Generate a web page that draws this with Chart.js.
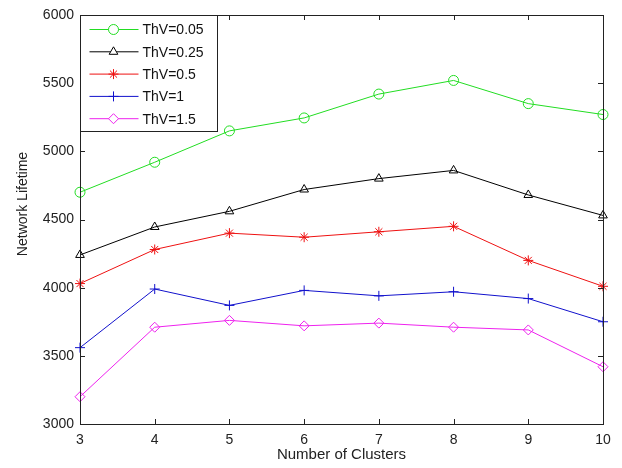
<!DOCTYPE html>
<html>
<head>
<meta charset="utf-8">
<script src="https://cdn.jsdelivr.net/npm/chart.js@4/dist/chart.umd.min.js"></script>
<style>
  body { margin: 0; background: #fff; }
  #wrap { width: 622px; height: 468px; }
</style>
</head>
<body>
<div id="wrap"><canvas id="grafico" width="622" height="468"></canvas></div>
<script>
const clusters = ["3", "4", "5", "6", "7", "8", "9", "10"];
const thv005 = [4700, 4920, 5150, 5245, 5420, 5520, 5350, 5270];
const thv025 = [4240, 4445, 4560, 4720, 4800, 4860, 4680, 4530];
const thv05 = [4030, 4280, 4400, 4370, 4410, 4450, 4200, 4010];
const thv1 = [3560, 3990, 3870, 3980, 3940, 3970, 3920, 3750];
const thv15 = [3200, 3710, 3760, 3720, 3740, 3710, 3690, 3420];
const yTicks = [3000, 3500, 4000, 4500, 5000, 5500, 6000];

const fuente = "Liberation Sans, Arial, sans-serif";

function serie(label, data, color, estilo) {
  return {
    label: label,
    data: data,
    borderColor: color,
    backgroundColor: "rgba(0,0,0,0)",
    borderWidth: 1,
    pointStyle: estilo,
    pointRadius: 5,
    pointBorderColor: color,
    pointBorderWidth: 1,
    pointBackgroundColor: "rgba(0,0,0,0)",
    tension: 0
  };
}

// marco estilo matlab con marcas hacia dentro + leyenda dentro del eje
const marco = {
  id: "marco",
  afterDraw(chart) {
    const c = chart.ctx;
    const a = chart.chartArea;
    const sx = chart.scales.x;
    const sy = chart.scales.y;
    c.save();
    c.strokeStyle = "#222";
    c.lineWidth = 1;
    c.beginPath();
    clusters.forEach((v, i) => {
      const px = Math.round(sx.getPixelForValue(i)) + 0.5;
      c.moveTo(px, a.bottom); c.lineTo(px, a.bottom - 5);
      c.moveTo(px, a.top); c.lineTo(px, a.top + 5);
    });
    yTicks.forEach(v => {
      const py = Math.round(sy.getPixelForValue(v)) + 0.5;
      c.moveTo(a.left, py); c.lineTo(a.left + 5, py);
      c.moveTo(a.right, py); c.lineTo(a.right - 5, py);
    });
    c.stroke();
    c.strokeRect(Math.round(a.left) + 0.5, Math.round(a.top) + 0.5,
      Math.round(a.right - a.left), Math.round(a.bottom - a.top));

    // titulo del eje y (un poco por encima del centro, como en el original)
    c.save();
    c.translate(23, 204);
    c.rotate(-Math.PI / 2);
    c.font = "14px " + fuente;
    c.fillStyle = "#222";
    c.textAlign = "center";
    c.textBaseline = "middle";
    c.fillText("Network Lifetime", 0, 0);
    c.restore();

    // leyenda
    const lx = Math.round(a.left) + 0.5, ly = Math.round(a.top) + 0.5;
    const lw = 137, lh = 116;
    c.fillStyle = "#fff";
    c.fillRect(lx, ly, lw, lh);
    c.strokeRect(lx, ly, lw, lh);
    c.font = "14px " + fuente;
    c.textBaseline = "middle";
    chart.data.datasets.forEach((ds, i) => {
      const yy = ly + 14 + i * 22.3;
      c.strokeStyle = ds.borderColor;
      c.beginPath();
      c.moveTo(lx + 9, yy); c.lineTo(lx + 58, yy);
      c.stroke();
      c.fillStyle = "#fff";
      Chart.helpers.drawPoint(c, {
        pointStyle: ds.pointStyle, radius: 5, borderWidth: 1, rotation: 0
      }, lx + 33, yy);
      c.fillStyle = "#111";
      c.fillText(ds.label, lx + 62, yy + 1);
    });
    c.restore();
  }
};

new Chart(document.getElementById("grafico"), {
  type: "line",
  data: {
    labels: clusters,
    datasets: [
      serie("ThV=0.05", thv005, "#22dd22", "circle"),
      serie("ThV=0.25", thv025, "#000000", "triangle"),
      serie("ThV=0.5", thv05, "#ee1111", "star"),
      serie("ThV=1", thv1, "#1111cc", "cross"),
      serie("ThV=1.5", thv15, "#ee22ee", "rectRot")
    ]
  },
  options: {
    responsive: false,
    animation: false,
    layout: { padding: { top: 15, right: 19, left: 0, bottom: 0 } },
    plugins: {
      legend: { display: false },
      tooltip: { enabled: false }
    },
    scales: {
      x: {
        offset: false,
        grid: { display: false, drawTicks: false },
        border: { display: false },
        ticks: { color: "#222", font: { family: fuente, size: 14 }, padding: 8, maxRotation: 0 },
        title: { display: true, text: "Number of Clusters", color: "#222", font: { family: fuente, size: 15 }, padding: { top: 0 } },
        afterFit(s) { s.height = 44; }
      },
      y: {
        min: 3000,
        max: 6000,
        afterBuildTicks(s) { s.ticks = yTicks.map(v => ({ value: v })); },
        grid: { display: false, drawTicks: false },
        border: { display: false },
        ticks: { color: "#222", font: { family: fuente, size: 14 }, padding: 6, callback: v => String(v) },
        afterFit(s) { s.width = 80; }
      }
    }
  },
  plugins: [marco]
});
</script>
</body>
</html>
